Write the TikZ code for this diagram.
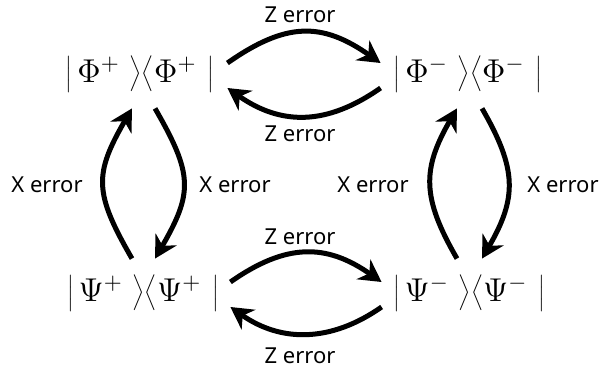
\RequirePackage{fix-cm}
\documentclass[tikz,border=0pt]{standalone}
\usepackage{fontspec}
\setsansfont{Noto Sans}
\usetikzlibrary{arrows.meta}
\newcommand{\tallstrut}{\vcenter{\vskip19pt}}
\newcommand{\densop}[2]{\left|\tallstrut\kern2.5pt#1^{#2}\kern5pt\right\rangle\!\left\langle\tallstrut#1^{#2}\kern5.5pt\right|}
\begin{document}
\begin{tikzpicture}[x=0.5pt,y=0.5pt,
  state/.style={inner sep=0pt, minimum width=87pt, minimum height=34pt,
    font=\fontsize{16.5}{18}\selectfont},
  lbl/.style={font=\sffamily\fontsize{11}{13}\selectfont, inner sep=0pt},
  arr/.style={line width=2.5pt, -{Stealth[length=11pt,width=12pt,inset=3.5pt]}}
]
\useasboundingbox (0,0) rectangle (600,371);
\node[state] (phip) at (140,297) {$\densop{\Phi}{+}$};
\node[state] (phim) at (468,297) {$\densop{\Phi}{-}$};
\node[state] (psip) at (143,78) {$\densop{\Psi}{+}$};
\node[state] (psim) at (469,78) {$\densop{\Psi}{-}$};

\node[lbl] (z1) at (300,356) {Z error};
\node[lbl] (z2) at (300,237) {Z error};
\node[lbl] (z3) at (300,134) {Z error};
\node[lbl] (z4) at (300,15) {Z error};
\node[lbl] (x1) at (47,186) {X error};
\node[lbl] (x2) at (235,186) {X error};
\node[lbl] (x3) at (373,186) {X error};
\node[lbl] (x4) at (563,186) {X error};

% top pair
\draw[arr] ([yshift=5.5pt]phip.east) to[out=35,in=145,looseness=1.2] ([yshift=5.5pt]phim.west);
\draw[arr] ([yshift=-7pt]phim.west) to[out=-145,in=-35,looseness=1.1] ([yshift=-7pt]phip.east);
% bottom pair
\draw[arr] ([yshift=5.5pt]psip.east) to[out=35,in=145,looseness=1.15] ([yshift=5.5pt]psim.west);
\draw[arr] ([yshift=-7pt]psim.west) to[out=-145,in=-35,looseness=1.05] ([yshift=-7pt]psip.east);
% left pair
\draw[arr] ([xshift=-5.5pt]psip.north) to[out=120,in=-120,looseness=1.3] ([xshift=-4pt]phip.south);
\draw[arr] ([xshift=7.5pt]phip.south) to[out=-60,in=60,looseness=1.3] ([xshift=6pt]psip.north);
% right pair
\draw[arr] ([xshift=-6pt]psim.north) to[out=120,in=-120,looseness=1.2] ([xshift=-5.5pt]phim.south);
\draw[arr] ([xshift=7pt]phim.south) to[out=-60,in=60,looseness=1.2] ([xshift=6.5pt]psim.north);
\end{tikzpicture}
\end{document}
